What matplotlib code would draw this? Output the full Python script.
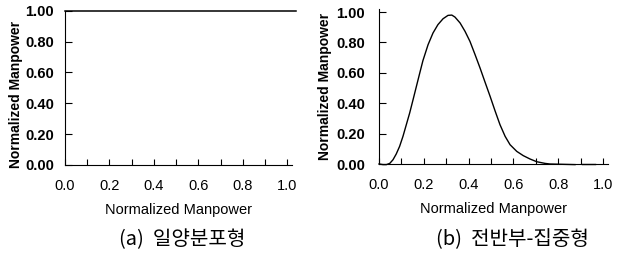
import numpy as np
import matplotlib
matplotlib.use('Agg')
import matplotlib.pyplot as plt
from matplotlib import font_manager
from matplotlib.ticker import MultipleLocator, FormatStrFormatter

# data
uni_x = [0.0, 1.04]
uni_y = [1.0, 1.0]

front_x = [0.0, 0.018, 0.033, 0.048, 0.0625, 0.077, 0.092, 0.107, 0.122, 0.137,
           0.152, 0.167, 0.182, 0.196, 0.219, 0.241, 0.263, 0.286, 0.308, 0.325,
           0.339, 0.362, 0.384, 0.406, 0.429, 0.451, 0.473, 0.496, 0.518, 0.540,
           0.563, 0.585, 0.615, 0.644, 0.674, 0.704, 0.741, 0.763, 0.875]
front_y = [0.0, -0.004, -0.004, 0.004, 0.028, 0.066, 0.116, 0.182, 0.259, 0.336,
           0.423, 0.511, 0.599, 0.68, 0.785, 0.862, 0.917, 0.956, 0.978, 0.980,
           0.967, 0.928, 0.873, 0.807, 0.719, 0.632, 0.54, 0.445, 0.35, 0.259,
           0.182, 0.127, 0.083, 0.055, 0.033, 0.015, 0.004, 0.0, -0.004]
tail_x = [0.905, 0.964]
tail_y = [0.003, 0.003]

captions = ['(a)  일양분포형', '(b)  전반부-집중형']
axis_label = 'Normalized Manpower'

names = set(f.name for f in font_manager.fontManager.ttflist)
narrow = 'Liberation Sans Narrow' if 'Liberation Sans Narrow' in names else 'Liberation Sans'

plt.rcParams['font.family'] = [narrow, 'DejaVu Sans']

fig = plt.figure(figsize=(6.23, 2.56), dpi=100)
W, H = 623.0, 256.0

ax1 = fig.add_axes([65 / W, 91 / H, 226.8 / W, 154.3 / H])
ax2 = fig.add_axes([379 / W, 92 / H, 228.5 / W, 155 / H])

ax1.plot(uni_x, uni_y, color='black', lw=1.1, clip_on=False)
ax2.plot(front_x, front_y, color='black', lw=1.0, clip_on=False)
ax2.plot(tail_x, tail_y, color='black', lw=1.0, clip_on=False)

for ax, top, ypad in [(ax1, 1.0, 8), (ax2, 1.02, 10)]:
    ax.set_xlim(0, 1.02)
    ax.set_ylim(0, top)
    ax.spines['top'].set_visible(False)
    ax.spines['right'].set_visible(False)
    ax.spines['left'].set_linewidth(0.8)
    ax.spines['bottom'].set_linewidth(0.8)
    ax.xaxis.set_major_locator(MultipleLocator(0.2))
    ax.xaxis.set_minor_locator(MultipleLocator(0.1))
    ax.yaxis.set_major_locator(MultipleLocator(0.2))
    ax.xaxis.set_major_formatter(FormatStrFormatter('%.1f'))
    ax.yaxis.set_major_formatter(FormatStrFormatter('%.2f'))
    ax.tick_params(axis='x', which='both', direction='in', length=4, width=0.8,
                   pad=10, labelsize=10.5)
    ax.tick_params(axis='y', which='both', direction='in', length=5, width=0.8,
                   pad=ypad, labelsize=10.5)
    for lab in ax.get_yticklabels():
        lab.set_fontweight('bold')
    ax.set_xlabel(axis_label, fontsize=10.5, labelpad=7)
    ax.set_ylabel(axis_label, fontsize=10, fontweight='bold',
                  family=['Liberation Sans', 'DejaVu Sans'])

ax1.yaxis.set_label_coords(-0.185, 0.46)
ax2.yaxis.set_label_coords(-0.205, 0.5)

fig.text(182 / W, 1 - 240 / H, captions[0], ha='center', va='center', fontsize=14.5,
         family=['Noto Sans CJK KR', 'DejaVu Sans'])
fig.text(512 / W, 1 - 240 / H, captions[1], ha='center', va='center', fontsize=14.5,
         family=['Noto Sans CJK KR', 'DejaVu Sans'])

fig.savefig('out.png', dpi=100)
